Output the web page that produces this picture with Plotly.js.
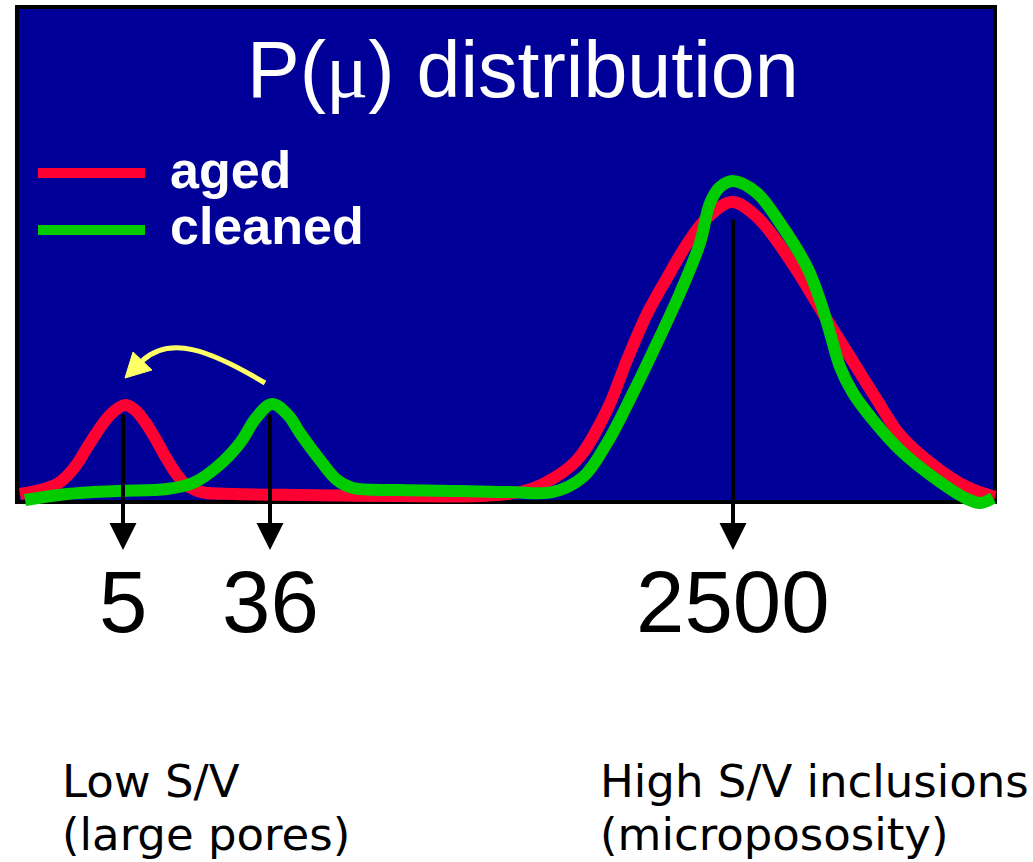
<!DOCTYPE html>
<html>
<head>
<meta charset="utf-8">
<script src="https://cdn.plot.ly/plotly-3.0.1.min.js"></script>
<style>
  html, body { margin: 0; padding: 0; background: #ffffff; }
  #chart { width: 1033px; height: 862px; }
</style>
</head>
<body>
<div id="chart"></div>
<script>
// Relative position along the mu axis (0 = left edge of the frame, ~100 = right edge)
// and P(mu) in arbitrary units.
const positionAged = [2.0, 4.0, 5.7, 6.7, 7.7, 9.0, 11.0, 12.5, 13.5, 14.5, 15.5, 16.5, 17.5, 18.5,
  19.5, 20.5, 23.3, 30.0, 40.0, 48.0, 52.0, 54.5, 57.7, 60.7, 62.7, 64.7, 66.7, 68.7, 70.7,
  73.2, 75.7, 79.0, 82.7, 85.2, 87.7, 90.0, 93.3, 96.7, 99.5];
const pAged = [2.0, 3.0, 4.5, 6.5, 9.5, 14.75, 21.75, 24.25, 23.0, 20.0, 16.0, 11.5, 7.5, 4.5,
  3.0, 2.3, 2.0, 1.75, 1.5, 1.5, 2.5, 4.75, 10.5, 23.0, 35.5, 47.0, 56.0, 64.5, 71.0,
  75.0, 71.25, 60.5, 45.5, 35.5, 25.5, 16.75, 9.25, 3.75, 1.25];

const positionCleaned = [2.5, 6.7, 11.7, 16.7, 19.3, 21.7, 24.0, 25.6, 27.2, 28.8, 30.0, 32.0, 33.7,
  35.3, 40.0, 46.0, 51.0, 55.3, 58.3, 60.7, 63.3, 65.7, 68.0, 70.0, 71.0, 72.0, 73.3, 75.7,
  78.0, 80.7, 82.0, 83.0, 84.0, 85.3, 87.3, 90.0, 93.3, 96.7, 98.0, 99.3];
const pCleaned = [0.5, 2.0, 2.75, 3.25, 4.75, 8.75, 14.75, 21.0, 24.5, 21.75, 17.25, 10.5, 5.5,
  3.5, 3.0, 2.75, 2.5, 2.5, 6.25, 14.75, 27.25, 39.75, 52.25, 64.75, 74.75, 78.75, 80.25, 77.25,
  69.75, 58.75, 50.5, 42.25, 33.75, 27.25, 20.5, 13.0, 6.25, 0.75, -0.25, 1.0];

// Peaks picked out below the frame
const peakPosition = [12.3, 27.0, 73.3];
const peakArrowTop = [22.25, 22.25, 71.0];
const peakLabel = ['5', '36', '2500'];

const seriesNames = ['aged', 'cleaned'];
const seriesColors = ['#ff0033', '#00cc00'];

const traces = [
  {
    x: positionAged, y: pAged, name: seriesNames[0], type: 'scatter', mode: 'lines',
    line: { color: seriesColors[0], width: 12, shape: 'spline', smoothing: 1 },
    hoverinfo: 'skip'
  },
  {
    x: positionCleaned, y: pCleaned, name: seriesNames[1], type: 'scatter', mode: 'lines',
    line: { color: seriesColors[1], width: 12, shape: 'spline', smoothing: 1 },
    hoverinfo: 'skip'
  }
];

const shapes = [
  // dark blue frame
  { type: 'rect', xref: 'x', yref: 'y', x0: 1.7, x1: 99.5, y0: 0, y1: 123.75,
    fillcolor: '#000099', line: { color: '#000000', width: 4 }, layer: 'below' },
  // legend swatches
  { type: 'line', xref: 'x', yref: 'y', x0: 3.8, x1: 14.5, y0: 82.25, y1: 82.25,
    line: { color: seriesColors[0], width: 10 } },
  { type: 'line', xref: 'x', yref: 'y', x0: 3.8, x1: 14.5, y0: 68.0, y1: 68.0,
    line: { color: seriesColors[1], width: 10 } },
  // yellow shift arrow from the 36 peak back toward the 5 peak
  { type: 'path', xref: 'x', yref: 'y', path: 'M 26.5,29.75 C 21.0,38.0 17.0,41.75 14.2,35.25',
    line: { color: '#ffff66', width: 5 } },
  { type: 'path', xref: 'x', yref: 'y', path: 'M 12.5,31.0 L 13.3,37.5 L 15.2,33.0 Z',
    fillcolor: '#ffff66', line: { color: '#ffff66', width: 1 } }
];

const annotations = [
  { xref: 'x', yref: 'y', x: 52.3, y: 108.25, xanchor: 'center', yanchor: 'middle', showarrow: false,
    text: 'P(<span style="font-family:\'Liberation Serif\'">μ</span>) distribution',
    font: { family: 'Liberation Sans, Arial, sans-serif', size: 79, color: '#ffffff' } },
  { xref: 'x', yref: 'y', x: 16.8, y: 83.0, xanchor: 'left', yanchor: 'middle', showarrow: false,
    text: '<b>' + seriesNames[0] + '</b>',
    font: { family: 'Liberation Sans, Arial, sans-serif', size: 52, color: '#ffffff' } },
  { xref: 'x', yref: 'y', x: 16.8, y: 69.0, xanchor: 'left', yanchor: 'middle', showarrow: false,
    text: '<b>' + seriesNames[1] + '</b>',
    font: { family: 'Liberation Sans, Arial, sans-serif', size: 52, color: '#ffffff' } },
  { xref: 'x', yref: 'y', x: 6.0, y: -69.75, xanchor: 'left', yanchor: 'middle', showarrow: false,
    text: 'Low S/V', font: { family: 'DejaVu Sans, sans-serif', size: 45, color: '#000000' } },
  { xref: 'x', yref: 'y', x: 6.0, y: -83.0, xanchor: 'left', yanchor: 'middle', showarrow: false,
    text: '(large pores)', font: { family: 'DejaVu Sans, sans-serif', size: 45, color: '#000000' } },
  { xref: 'x', yref: 'y', x: 59.8, y: -69.75, xanchor: 'left', yanchor: 'middle', showarrow: false,
    text: 'High S/V inclusions', font: { family: 'DejaVu Sans, sans-serif', size: 45, color: '#000000' } },
  { xref: 'x', yref: 'y', x: 59.8, y: -83.0, xanchor: 'left', yanchor: 'middle', showarrow: false,
    text: '(micropososity)', font: { family: 'DejaVu Sans, sans-serif', size: 45, color: '#000000' } }
];

peakPosition.forEach(function (pos, i) {
  annotations.push({
    xref: 'x', yref: 'y', axref: 'x', ayref: 'y',
    x: pos, y: -12.0, ax: pos, ay: peakArrowTop[i],
    text: '', showarrow: true, arrowhead: 2, arrowsize: 1.35, arrowwidth: 4,
    arrowcolor: '#000000', standoff: 0
  });
  annotations.push({
    xref: 'x', yref: 'y', x: pos, y: -24.75, xanchor: 'center', yanchor: 'middle', showarrow: false,
    text: peakLabel[i], font: { family: 'Liberation Sans, Arial, sans-serif', size: 87, color: '#000000' }
  });
});

const layout = {
  width: 1033, height: 862,
  margin: { l: 0, r: 0, t: 0, b: 0, pad: 0 },
  paper_bgcolor: '#ffffff', plot_bgcolor: 'rgba(0,0,0,0)',
  showlegend: false,
  xaxis: { range: [0, 103.3], visible: false, fixedrange: true },
  yaxis: { range: [-90, 125.5], visible: false, fixedrange: true },
  shapes: shapes,
  annotations: annotations
};

Plotly.newPlot('chart', traces, layout, { staticPlot: true, displayModeBar: false });
</script>
</body>
</html>
